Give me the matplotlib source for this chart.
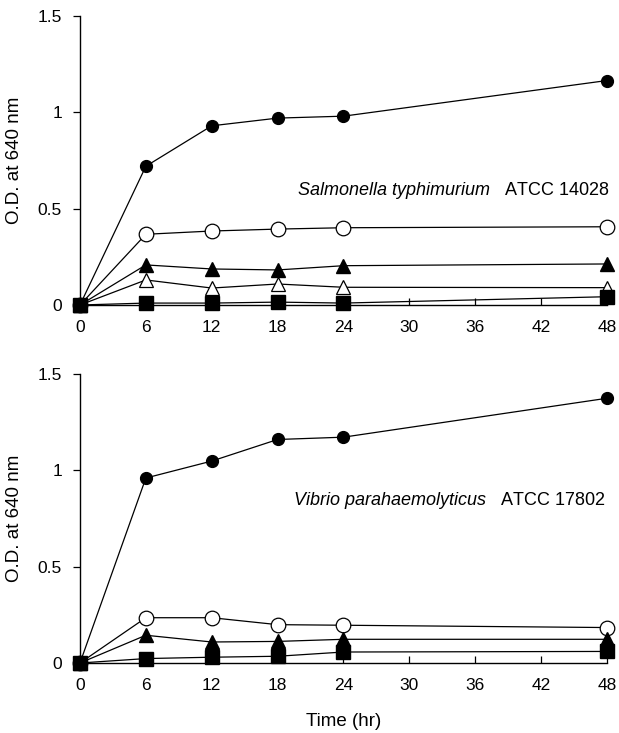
import matplotlib
matplotlib.use("Agg")
import matplotlib.pyplot as plt

time_hr = [0, 6, 12, 18, 24, 48]
x_ticks = [0, 6, 12, 18, 24, 30, 36, 42, 48]
y_ticks = [0, 0.5, 1, 1.5]
y_tick_labels = ["0", "0.5", "1", "1.5"]

# Salmonella typhimurium ATCC 14028
sal_filled_circle = [0, 0.72, 0.93, 0.97, 0.98, 1.165]
sal_open_circle = [0, 0.367, 0.384, 0.394, 0.401, 0.406]
sal_filled_triangle = [0, 0.208, 0.187, 0.182, 0.204, 0.213]
sal_open_triangle = [0, 0.13, 0.088, 0.109, 0.092, 0.09]
sal_filled_square = [0, 0.01, 0.01, 0.015, 0.01, 0.043]

# Vibrio parahaemolyticus ATCC 17802
vib_filled_circle = [0, 0.96, 1.048, 1.16, 1.172, 1.374]
vib_open_circle = [0, 0.235, 0.235, 0.199, 0.196, 0.184]
vib_filled_triangle = [0, 0.144, 0.109, 0.112, 0.123, 0.123]
vib_filled_square = [0, 0.023, 0.03, 0.035, 0.057, 0.06]

plt.rcParams['font.family'] = ['Liberation Sans', 'DejaVu Sans']
plt.rcParams['mathtext.fontset'] = 'custom'
plt.rcParams['mathtext.rm'] = 'Liberation Sans'
plt.rcParams['mathtext.it'] = 'Liberation Sans:italic'

fig = plt.figure(figsize=(6.19, 7.33), dpi=100)
ax1 = fig.add_axes([0.1292, 0.5839, 0.8514, 0.3943])
ax2 = fig.add_axes([0.1292, 0.0955, 0.8514, 0.3943])

lw = 0.9
styles = {
    'fc': dict(marker='o', ms=8.5, mfc='black', mec='black'),
    'oc': dict(marker='o', ms=10.5, mfc='white', mec='black', mew=0.9),
    'ft': dict(marker='^', ms=10, mfc='black', mec='black'),
    'ot': dict(marker='^', ms=10, mfc='white', mec='black', mew=0.9),
    'fs': dict(marker='s', ms=9.5, mfc='black', mec='black'),
}

def draw(ax, series):
    for key, vals in series:
        ax.plot(time_hr, vals, color='black', lw=lw, clip_on=False, zorder=3, **styles[key])
    ax.set_xlim(0, 48)
    ax.set_ylim(0, 1.5)
    ax.spines['top'].set_visible(False)
    ax.spines['right'].set_visible(False)
    ax.spines['left'].set_linewidth(1.0)
    ax.spines['bottom'].set_linewidth(1.0)
    ax.set_xticks(x_ticks)
    ax.set_xticklabels([str(t) for t in x_ticks])
    ax.set_yticks(y_ticks)
    ax.set_yticklabels(y_tick_labels)
    ax.tick_params(axis='x', direction='in', length=5, width=0.9, labelsize=12.5, pad=11)
    ax.tick_params(axis='y', direction='out', length=5, width=0.9, labelsize=12.5, pad=8)
    ax.set_ylabel("O.D. at 640 nm", fontsize=13.5, va='center')
    ax.yaxis.set_label_coords(-0.125, 0.5)

draw(ax1, [('fc', sal_filled_circle), ('oc', sal_open_circle), ('ft', sal_filled_triangle),
           ('ot', sal_open_triangle), ('fs', sal_filled_square)])
draw(ax2, [('fc', vib_filled_circle), ('oc', vib_open_circle), ('ft', vib_filled_triangle),
           ('fs', vib_filled_square)])

ax1.text(48.2, 0.592, r"$\it{Salmonella\ typhimurium}$" + "   ATCC 14028",
         fontsize=13, ha='right', va='center')
ax2.text(47.8, 0.844, r"$\it{Vibrio\ parahaemolyticus}$" + "   ATCC 17802",
         fontsize=13, ha='right', va='center')

ax2.set_xlabel("Time (hr)", fontsize=13.5, labelpad=14)

fig.savefig("out.png", dpi=100)
